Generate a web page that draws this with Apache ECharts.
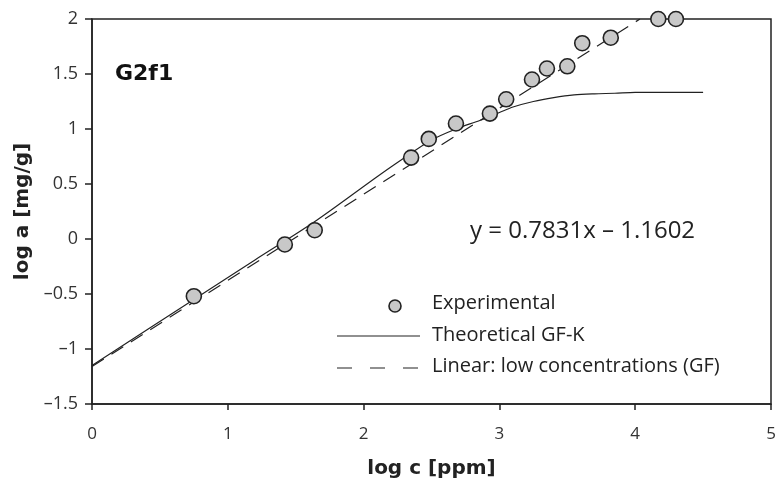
<!DOCTYPE html>
<html>
<head>
<meta charset="utf-8">
<script src="https://cdn.jsdelivr.net/npm/echarts@6/dist/echarts.min.js"></script>
<style>
  html, body { margin: 0; padding: 0; background: #fff; }
  #chart { width: 777px; height: 482px; }
</style>
</head>
<body>
<div id="chart"></div>
<script>
// experimental points (log c, log a)
var expX = [0.75, 1.42, 1.64, 2.35, 2.48, 2.68, 2.93, 3.05, 3.24, 3.35, 3.50, 3.61, 3.82, 4.17, 4.30];
var expY = [-0.52, -0.05, 0.08, 0.74, 0.91, 1.05, 1.14, 1.27, 1.45, 1.55, 1.57, 1.78, 1.83, 2.0, 2.0];

// theoretical GF-K curve
var theoX = [0, 0.75, 1.2, 1.63, 2.12, 2.35, 2.5, 2.68, 2.86, 3.0, 3.1, 3.25, 3.4, 3.55, 3.7, 3.85, 4.0, 4.5];
var theoY = [-1.15, -0.55, -0.19, 0.15, 0.585, 0.78, 0.9, 1.0, 1.08, 1.15, 1.2, 1.25, 1.285, 1.31, 1.32, 1.325, 1.333, 1.333];

// linear fit (low concentrations) end points
var linX = [0, 4.035];
var linY = [-1.16, 2.0];

var legendNames = ['Experimental', 'Theoretical GF-K', 'Linear: low concentrations (GF)'];
var equationText = 'y = 0.7831x \u2013 1.1602';

function pairs(xs, ys) {
    var out = [];
    for (var i = 0; i < xs.length; i++) out.push([xs[i], ys[i]]);
    return out;
}

var ink = '#222';
var myChart = echarts.init(document.getElementById('chart'));

var option = {
    animation: false,
    grid: {
        left: 92, right: 6, top: 19, bottom: 78,
        outerBoundsMode: 'none',
        show: true, borderColor: ink, borderWidth: 1.5
    },
    xAxis: {
        type: 'value', min: 0, max: 5, interval: 1,
        name: 'log c [ppm]', nameLocation: 'middle', nameGap: 55,
        nameTextStyle: { fontFamily: 'DejaVu Sans', fontWeight: 'bold', fontSize: 20, color: ink },
        axisLine: { show: true, onZero: false, lineStyle: { color: ink, width: 1.5 } },
        axisTick: { show: true, length: 6, lineStyle: { color: ink, width: 1.5 } },
        axisLabel: { margin: 22, fontFamily: 'Open Sans', fontSize: 17, color: '#333' },
        splitLine: { show: false }
    },
    yAxis: {
        type: 'value', min: -1.5, max: 2, interval: 0.5,
        name: 'log a [mg/g]', nameLocation: 'middle', nameGap: 58,
        nameTextStyle: { fontFamily: 'DejaVu Sans', fontWeight: 'bold', fontSize: 20, color: ink },
        axisLine: { show: true, onZero: false, lineStyle: { color: ink, width: 1.5 } },
        axisTick: { show: true, length: 7, lineStyle: { color: ink, width: 1.5 } },
        axisLabel: {
            margin: 14, fontFamily: 'Open Sans', fontSize: 18, color: '#333',
            formatter: function (v) { return String(v).replace('-', '\u2013'); }
        },
        splitLine: { show: false }
    },
    series: [
        {
            name: legendNames[2],
            type: 'line',
            data: pairs(linX, linY),
            showSymbol: false,
            lineStyle: { color: ink, width: 1.2, type: [14, 9] },
            z: 2
        },
        {
            name: legendNames[1],
            type: 'line',
            data: pairs(theoX, theoY),
            showSymbol: false,
            smooth: 0.3,
            lineStyle: { color: ink, width: 1.2 },
            z: 3
        },
        {
            name: legendNames[0],
            type: 'scatter',
            data: pairs(expX, expY),
            symbol: 'circle',
            symbolSize: 15,
            clip: false,
            itemStyle: { color: '#c8c8c8', borderColor: ink, borderWidth: 1.6, opacity: 1 },
            z: 4
        }
    ],
    graphic: [
        {
            type: 'text', left: 115, top: 63,
            style: { text: 'G2f1', font: 'bold 22px "DejaVu Sans"', fill: '#111' }
        },
        {
            type: 'text', left: 470, top: 219,
            style: { text: equationText, font: '24px "Open Sans"', fill: ink }
        },
        // legend
        {
            type: 'circle', shape: { cx: 395, cy: 306, r: 6 },
            style: { fill: '#c8c8c8', stroke: ink, lineWidth: 1.6 }
        },
        {
            type: 'text', left: 432, top: 293,
            style: { text: legendNames[0], font: '20px "Open Sans"', fill: ink }
        },
        {
            type: 'line', shape: { x1: 337, y1: 336, x2: 420, y2: 336 },
            style: { stroke: ink, lineWidth: 1.2 }
        },
        {
            type: 'text', left: 432, top: 325,
            style: { text: legendNames[1], font: '20px "Open Sans"', fill: ink }
        },
        {
            type: 'line', shape: { x1: 337, y1: 368, x2: 420, y2: 368 },
            style: { stroke: ink, lineWidth: 1.2, lineDash: [15, 18] }
        },
        {
            type: 'text', left: 432, top: 356,
            style: { text: legendNames[2], font: '20px "Open Sans"', fill: ink }
        }
    ]
};
myChart.setOption(option);
</script>
</body>
</html>
